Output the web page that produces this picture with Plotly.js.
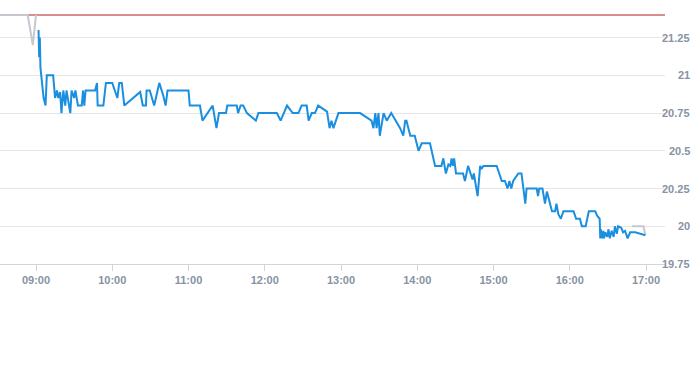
<!DOCTYPE html>
<html>
<head>
<meta charset="utf-8">
<script src="https://cdn.plot.ly/plotly-3.0.1.min.js"></script>
<style>html,body{margin:0;padding:0;background:#fff;}#chart{width:693px;height:365px;}</style>
</head>
<body>
<div id="chart"></div>
<script>
const DAY = '2024-01-02 ';
const prevClose = 21.40;
const rangeStart = '08:31:40';
const rangeEnd = '17:14:56';

const mainTimes = ['09:02:00','09:02:30','09:03:00','09:03:30','09:06:00','09:07:30','09:08:30','09:13:30','09:15:00','09:16:30','09:17:30','09:19:00','09:20:00','09:21:30','09:23:00','09:24:00','09:27:00','09:28:00','09:30:00','09:31:00','09:33:00','09:36:00','09:37:00','09:38:00','09:39:00','09:46:30','09:48:00','09:48:30','09:53:00','09:55:00','10:00:00','10:02:00','10:04:00','10:05:30','10:07:30','10:09:30','10:22:00','10:24:00','10:26:30','10:27:00','10:29:30','10:33:00','10:37:00','10:40:00','10:42:00','10:43:30','11:00:00','11:01:00','11:09:00','11:11:00','11:17:00','11:19:00','11:22:00','11:24:00','11:29:30','11:30:30','11:38:00','11:39:00','11:41:00','11:43:00','11:46:00','11:53:00','11:55:00','12:09:30','12:12:30','12:17:30','12:22:00','12:26:30','12:29:00','12:33:00','12:34:30','12:37:00','12:39:30','12:42:00','12:49:00','12:51:00','12:52:30','12:54:00','12:58:00','13:15:00','13:24:00','13:25:30','13:27:00','13:28:00','13:29:30','13:30:30','13:33:30','13:36:00','13:39:30','13:46:30','13:49:00','13:50:30','13:51:30','13:54:30','13:58:00','14:01:00','14:03:30','14:10:00','14:14:00','14:19:00','14:20:30','14:22:30','14:24:30','14:26:00','14:27:00','14:28:00','14:29:00','14:30:30','14:36:00','14:37:30','14:40:00','14:43:30','14:44:30','14:47:30','14:49:30','14:50:30','14:52:00','15:02:30','15:06:30','15:09:00','15:11:00','15:12:30','15:14:00','15:15:30','15:19:30','15:22:00','15:25:00','15:26:00','15:34:00','15:35:00','15:36:00','15:38:30','15:40:30','15:42:00','15:46:00','15:48:30','15:49:30','15:51:00','15:53:00','15:55:00','16:03:00','16:05:00','16:08:00','16:09:30','16:12:30','16:15:00','16:20:00','16:21:30','16:23:30','16:24:00','16:24:30','16:25:30','16:26:30','16:27:00','16:28:00','16:29:30','16:30:30','16:31:30','16:33:00','16:34:30','16:35:30','16:37:00','16:38:00','16:40:30','16:42:00','16:43:30','16:45:30','16:47:30','16:51:30','16:59:30'];
const mainPrices = [21.30,21.12,21.25,21.05,20.85,20.80,21.00,21.00,20.85,20.90,20.85,20.89,20.75,20.90,20.80,20.90,20.75,20.90,20.85,20.90,20.80,20.80,20.90,20.80,20.90,20.90,20.95,20.80,20.80,20.95,20.95,20.90,20.85,20.95,20.95,20.80,20.89,20.80,20.80,20.90,20.90,20.80,20.95,20.87,20.80,20.90,20.90,20.80,20.80,20.70,20.77,20.80,20.65,20.75,20.75,20.80,20.80,20.75,20.80,20.80,20.75,20.70,20.75,20.75,20.70,20.80,20.75,20.75,20.80,20.80,20.70,20.75,20.75,20.80,20.76,20.65,20.70,20.65,20.75,20.75,20.70,20.65,20.75,20.65,20.75,20.60,20.75,20.70,20.75,20.65,20.60,20.70,20.70,20.60,20.60,20.50,20.55,20.55,20.40,20.40,20.45,20.35,20.41,20.40,20.45,20.40,20.45,20.35,20.35,20.30,20.40,20.31,20.35,20.20,20.40,20.38,20.40,20.40,20.30,20.30,20.25,20.30,20.25,20.30,20.35,20.35,20.15,20.25,20.25,20.20,20.25,20.25,20.15,20.23,20.10,20.10,20.15,20.08,20.05,20.10,20.10,20.05,20.05,20.00,20.00,20.10,20.10,20.07,20.05,19.92,19.98,19.92,19.97,19.92,19.96,19.93,19.98,19.92,19.97,19.93,20.00,19.95,20.00,19.99,19.96,19.97,19.92,19.96,19.96,19.94];

const preTimes = ['08:30:00','08:53:30','08:57:30','09:00:00'];
const prePrices = [21.40,21.40,21.20,21.40];
const postTimes = ['16:49:00','16:58:00','16:59:30'];
const postPrices = [20.00,20.00,19.94];

const yTickVals = [19.75,20,20.25,20.5,20.75,21,21.25];
const yTickText = ['19.75','20','20.25','20.5','20.75','21','21.25'];

const toX = arr => arr.map(t => DAY + t);
const labelColor = '#8793a2';
const labelFont = {family: 'Arial, Liberation Sans, sans-serif', size: 11, color: labelColor, weight: 'bold'};

const traces = [
  {x: toX([rangeStart, rangeEnd]), y: [prevClose, prevClose], type: 'scatter', mode: 'lines',
   line: {color: '#b31f1f', width: 1}, hoverinfo: 'skip'},
  {x: toX(preTimes), y: prePrices, type: 'scatter', mode: 'lines',
   line: {color: '#c3c9ce', width: 2}, hoverinfo: 'skip'},
  {x: toX(postTimes), y: postPrices, type: 'scatter', mode: 'lines',
   line: {color: '#c3c9ce', width: 2}, hoverinfo: 'skip'},
  {x: toX(mainTimes), y: mainPrices, type: 'scatter', mode: 'lines',
   line: {color: '#1a8fe0', width: 2}}
];

const annotations = yTickVals.map((v, i) => ({
  xref: 'paper', yref: 'y', x: 1, y: v, xanchor: 'right', yanchor: 'middle',
  xshift: 27, text: yTickText[i], showarrow: false, font: labelFont
}));

const layout = {
  width: 693, height: 365,
  margin: {l: 0, r: 28, t: 12, b: 101, pad: 0},
  paper_bgcolor: '#fff', plot_bgcolor: '#fff',
  showlegend: false,
  xaxis: {
    type: 'date',
    range: [DAY + rangeStart, DAY + rangeEnd],
    tick0: DAY + '09:00:00', dtick: 3600000, tickformat: '%H:%M',
    showgrid: false, zeroline: false,
    showline: true, linecolor: '#d0d6de', linewidth: 1,
    ticks: 'outside', ticklen: 6, tickcolor: '#d0d6de', tickwidth: 1,
    tickfont: labelFont
  },
  yaxis: {
    side: 'right',
    range: [19.75, 21.4199],
    tickvals: yTickVals, showticklabels: false,
    showgrid: true, gridcolor: '#e6e6e6', gridwidth: 1,
    zeroline: false, showline: false, ticks: ''
  },
  annotations: annotations
};

Plotly.newPlot('chart', traces, layout, {displayModeBar: false, staticPlot: true});
</script>
</body>
</html>
